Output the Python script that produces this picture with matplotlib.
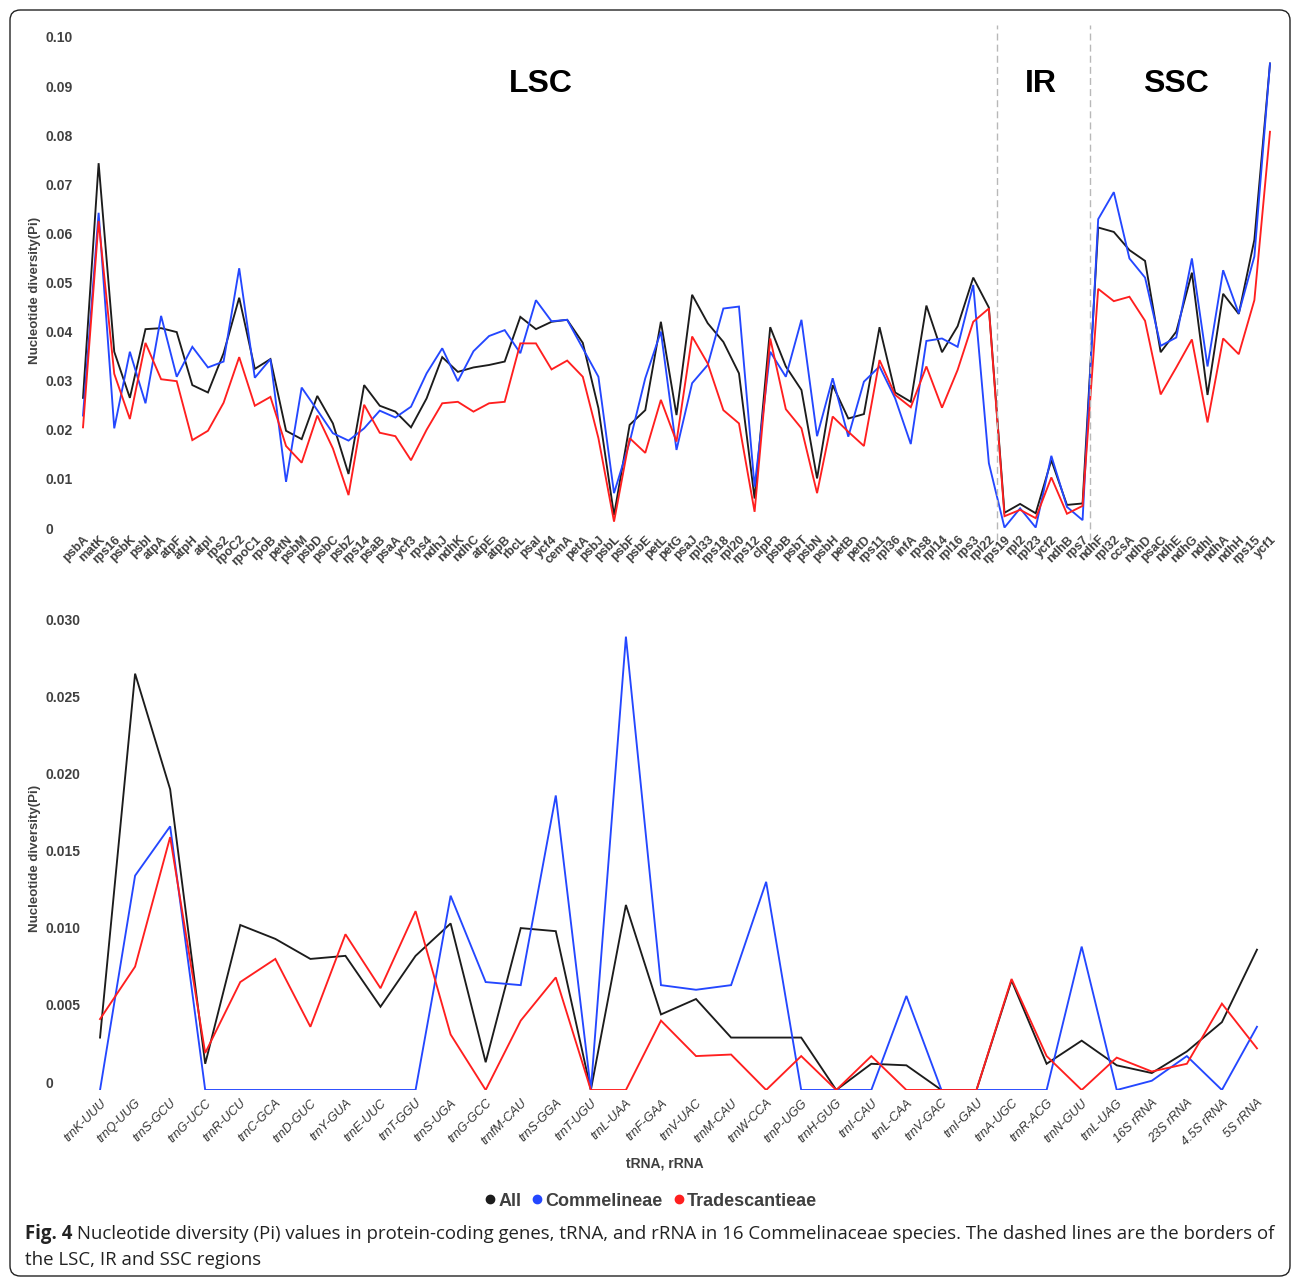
import matplotlib
matplotlib.use('Agg')
import matplotlib.pyplot as plt
from matplotlib.patches import FancyBboxPatch
from matplotlib.lines import Line2D
import matplotlib.transforms as mtrans

plt.rcParams['font.family'] = ['Liberation Sans', 'DejaVu Sans']

# ---------------- data ----------------
genes = ['psbA', 'matK', 'rps16', 'psbK', 'psbI', 'atpA', 'atpF', 'atpH', 'atpI', 'rps2',
         'rpoC2', 'rpoC1', 'rpoB', 'petN', 'psbM', 'psbD', 'psbC', 'psbZ', 'rps14', 'psaB',
         'psaA', 'ycf3', 'rps4', 'ndhJ', 'ndhK', 'ndhC', 'atpE', 'atpB', 'rbcL', 'psaI',
         'ycf4', 'cemA', 'petA', 'psbJ', 'psbL', 'psbF', 'psbE', 'petL', 'petG', 'psaJ',
         'rpl33', 'rps18', 'rpl20', 'rps12', 'clpP', 'psbB', 'psbT', 'psbN', 'psbH', 'petB',
         'petD', 'rps11', 'rpl36', 'infA', 'rps8', 'rpl14', 'rpl16', 'rps3', 'rpl22', 'rps19',
         'rpl2', 'rpl23', 'ycf2', 'ndhB', 'rps7', 'ndhF', 'rpl32', 'ccsA', 'ndhD', 'psaC',
         'ndhE', 'ndhG', 'ndhI', 'ndhA', 'ndhH', 'rps15', 'ycf1']

gene_all = [0.0265, 0.0743, 0.0359, 0.0265, 0.0405, 0.0407, 0.0399, 0.0291, 0.0276, 0.0356,
            0.0469, 0.0324, 0.0344, 0.0198, 0.0181, 0.0269, 0.0213, 0.0110, 0.0291, 0.0249,
            0.0237, 0.0205, 0.0264, 0.0348, 0.0318, 0.0327, 0.0332, 0.0339, 0.0430, 0.0405,
            0.0420, 0.0424, 0.0377, 0.0244, 0.0026, 0.0210, 0.0240, 0.0420, 0.0230, 0.0475,
            0.0417, 0.0379, 0.0315, 0.0060, 0.0409, 0.0329, 0.0281, 0.0101, 0.0291, 0.0223,
            0.0232, 0.0409, 0.0276, 0.0257, 0.0453, 0.0358, 0.0411, 0.0510, 0.0449, 0.0031,
            0.0049, 0.0030, 0.0138, 0.0047, 0.0050, 0.0612, 0.0603, 0.0566, 0.0544, 0.0358,
            0.0400, 0.0520, 0.0271, 0.0477, 0.0436, 0.0587, 0.0946]

gene_commelineae = [0.0229, 0.0642, 0.0203, 0.0359, 0.0254, 0.0432, 0.0308, 0.0369, 0.0327, 0.0339,
                    0.0529, 0.0306, 0.0344, 0.0094, 0.0286, 0.0240, 0.0193, 0.0178, 0.0203, 0.0239,
                    0.0225, 0.0247, 0.0315, 0.0366, 0.0299, 0.0360, 0.0391, 0.0403, 0.0356, 0.0464,
                    0.0421, 0.0424, 0.0366, 0.0308, 0.0071, 0.0175, 0.0305, 0.0400, 0.0159, 0.0295,
                    0.0332, 0.0447, 0.0451, 0.0084, 0.0359, 0.0308, 0.0424, 0.0187, 0.0305, 0.0186,
                    0.0298, 0.0329, 0.0264, 0.0171, 0.0381, 0.0386, 0.0369, 0.0495, 0.0132, 0.0001,
                    0.0040, 0.0001, 0.0147, 0.0043, 0.0016, 0.0629, 0.0684, 0.0549, 0.0510, 0.0371,
                    0.0388, 0.0549, 0.0329, 0.0525, 0.0437, 0.0553, 0.0946]

gene_tradescantieae = [0.0205, 0.0625, 0.0314, 0.0222, 0.0377, 0.0303, 0.0299, 0.0179, 0.0198, 0.0255,
                       0.0348, 0.0249, 0.0267, 0.0167, 0.0133, 0.0229, 0.0162, 0.0067, 0.0251, 0.0194,
                       0.0187, 0.0138, 0.0200, 0.0254, 0.0257, 0.0237, 0.0254, 0.0257, 0.0376, 0.0376,
                       0.0323, 0.0341, 0.0308, 0.0183, 0.0013, 0.0183, 0.0153, 0.0261, 0.0176, 0.0390,
                       0.0335, 0.0240, 0.0213, 0.0033, 0.0386, 0.0242, 0.0203, 0.0071, 0.0227, 0.0196,
                       0.0167, 0.0342, 0.0271, 0.0246, 0.0329, 0.0245, 0.0322, 0.0420, 0.0447, 0.0024,
                       0.0037, 0.0020, 0.0103, 0.0029, 0.0045, 0.0487, 0.0462, 0.0471, 0.0422, 0.0272,
                       0.0327, 0.0384, 0.0215, 0.0386, 0.0354, 0.0464, 0.0807]

rnas = ['trnK-UUU', 'trnQ-UUG', 'trnS-GCU', 'trnG-UCC', 'trnR-UCU', 'trnC-GCA', 'trnD-GUC',
        'trnY-GUA', 'trnE-UUC', 'trnT-GGU', 'trnS-UGA', 'trnG-GCC', 'trnfM-CAU', 'trnS-GGA',
        'trnT-UGU', 'trnL-UAA', 'trnF-GAA', 'trnV-UAC', 'trnM-CAU', 'trnW-CCA', 'trnP-UGG',
        'trnH-GUG', 'trnI-CAU', 'trnL-CAA', 'trnV-GAC', 'trnI-GAU', 'trnA-UGC', 'trnR-ACG',
        'trnN-GUU', 'trnL-UAG', '16S rRNA', '23S rRNA', '4.5S rRNA', '5S rRNA']

rna_all = [0.0034, 0.0270, 0.0195, 0.0017, 0.0107, 0.0098, 0.0085, 0.0087, 0.0054, 0.0087,
           0.0108, 0.0018, 0.0105, 0.0103, 0.0000, 0.0120, 0.0049, 0.0059, 0.0034, 0.0034,
           0.0034, 0.0000, 0.0017, 0.0016, 0.0000, 0.0000, 0.0071, 0.0017, 0.0032, 0.0016,
           0.0011, 0.0025, 0.0044, 0.0091]

rna_commelineae = [0.0000, 0.0139, 0.0171, 0.0000, 0.0000, 0.0000, 0.0000, 0.0000, 0.0000, 0.0000,
                   0.0126, 0.0070, 0.0068, 0.0191, 0.0000, 0.0294, 0.0068, 0.0065, 0.0068, 0.0135,
                   0.0000, 0.0000, 0.0000, 0.0061, 0.0000, 0.0000, 0.0000, 0.0000, 0.0093, 0.0000,
                   0.0006, 0.0022, 0.0000, 0.0041]

rna_tradescantieae = [0.0046, 0.0080, 0.0164, 0.0024, 0.0070, 0.0085, 0.0041, 0.0101, 0.0066, 0.0116,
                      0.0036, 0.0000, 0.0045, 0.0073, 0.0000, 0.0000, 0.0045, 0.0022, 0.0023, 0.0000,
                      0.0022, 0.0000, 0.0022, 0.0000, 0.0000, 0.0000, 0.0072, 0.0022, 0.0000, 0.0021,
                      0.0012, 0.0017, 0.0056, 0.0027]

series_names = ['All', 'Commelineae', 'Tradescantieae']
series_colors = ['#1c1c1c', '#2447ff', '#ff1f1f']

region_labels = ['LSC', 'IR', 'SSC']
region_centers = [29.3, 61.3, 70.0]
region_borders = [58.5, 64.5]

top_yticks = [0, 0.01, 0.02, 0.03, 0.04, 0.05, 0.06, 0.07, 0.08, 0.09, 0.10]
top_yticklabels = ['0', '0.01', '0.02', '0.03', '0.04', '0.05', '0.06', '0.07', '0.08', '0.09', '0.10']
bot_yticks = [0, 0.005, 0.010, 0.015, 0.020, 0.025, 0.030]
bot_yticklabels = ['0', '0.005', '0.010', '0.015', '0.020', '0.025', '0.030']

caption_bold = 'Fig. 4'
caption_line1 = ('Nucleotide diversity (Pi) values in protein-coding genes, tRNA, and rRNA in 16 '
                 'Commelinaceae species. The dashed lines are the borders of')
caption_line2 = 'the LSC, IR and SSC regions'

# ---------------- layout helpers ----------------
W, H = 1292, 1278
fig = plt.figure(figsize=(W / 100, H / 100), dpi=100)


def fx(px):
    return px / W


def fy(py):
    return 1 - py / H


GRAY = '#404040'

# border
border = FancyBboxPatch((fx(10), fy(1276)), fx(1290) - fx(10), fy(10) - fy(1276),
                        boxstyle='round,pad=0,rounding_size=0.008', transform=fig.transFigure,
                        fill=False, edgecolor='#222222', linewidth=1.0)
fig.patches.append(border)

# ---------------- top chart ----------------
ax1 = fig.add_axes([fx(75.2), fy(528), fx(1277.8) - fx(75.2), (528 - 37) / H])
x1 = list(range(len(genes)))
for vals, c in zip([gene_all, gene_commelineae, gene_tradescantieae], series_colors):
    ax1.plot(x1, vals, color=c, lw=1.35, solid_joinstyle='miter')
ax1.set_xlim(-0.5, len(genes) - 0.5)
ax1.set_ylim(0, 0.10)
ax1.set_xticks(x1)
ax1.set_xticklabels(genes, rotation=45, ha='right', va='top', rotation_mode='anchor',
                    fontsize=9, fontweight='bold', color=GRAY)
ax1.set_yticks(top_yticks)
ax1.set_yticklabels(top_yticklabels, fontsize=10, fontweight='bold', color=GRAY, ha='left')
ax1.tick_params(axis='x', length=0, pad=4)
ax1.tick_params(axis='y', length=0, pad=30 * 0.72)
for s in ax1.spines.values():
    s.set_visible(False)

for b in region_borders:
    ax1.axvline(b, ymin=(528 - 540) / 491, ymax=(528 - 25) / 491, clip_on=False,
                color='#b8b8b8', lw=1.0, ls=(0, (5, 3)))

blend = mtrans.blended_transform_factory(ax1.transData, ax1.transAxes)
for lab, xc in zip(region_labels, region_centers):
    ax1.text(xc, 0.904, lab, transform=blend, ha='center', va='center',
             fontsize=23, fontweight='bold', color='black')

fig.text(fx(35), fy(290), 'Nucleotide diversity(Pi)', rotation=90, ha='center', va='center',
         fontsize=9.5, fontweight='bold', color=GRAY)

# ---------------- bottom chart ----------------
ax2 = fig.add_axes([fx(82.5), fy(1090), fx(1274.5) - fx(82.5), (1090 - 627.4) / H])
x2 = list(range(len(rnas)))
for vals, c in zip([rna_all, rna_commelineae, rna_tradescantieae], series_colors):
    ax2.plot(x2, vals, color=c, lw=1.35, solid_joinstyle='miter')
ax2.set_xlim(-0.5, len(rnas) - 0.5)
ax2.set_ylim(0, 0.030)
ax2.set_xticks(x2)
ax2.set_xticklabels(rnas, rotation=45, ha='right', va='top', rotation_mode='anchor',
                    fontsize=9, fontstyle='italic', color='#333333')
ax2.set_yticks(bot_yticks)
ax2.set_yticklabels(bot_yticklabels, fontsize=10, fontweight='bold', color=GRAY, ha='left')
ax2.tick_params(axis='x', length=0, pad=5)
ax2.tick_params(axis='y', length=0, pad=37.5 * 0.72)
shift = mtrans.ScaledTranslation(0, 8 / 100, fig.dpi_scale_trans)
for lbl in ax2.get_yticklabels():
    lbl.set_transform(lbl.get_transform() + shift)
for s in ax2.spines.values():
    s.set_visible(False)

fig.text(fx(35), fy(858), 'Nucleotide diversity(Pi)', rotation=90, ha='center', va='center',
         fontsize=9.5, fontweight='bold', color=GRAY)
fig.text(fx(665), fy(1163), 'tRNA, rRNA', ha='center', va='center',
         fontsize=10, fontweight='bold', color=GRAY)

# ---------------- legend ----------------
handles = [Line2D([], [], marker='o', ls='', color=c, markersize=6) for c in series_colors]
fig.legend(handles, series_names, loc='center', bbox_to_anchor=(fx(650), fy(1201)), ncol=3,
           frameon=False, handletextpad=0.05, columnspacing=0.5, handlelength=0.8,
           prop=dict(weight='bold', size=13), labelcolor=GRAY)

# ---------------- caption ----------------
renderer = fig.canvas.get_renderer()
cap_font = ['Open Sans', 'DejaVu Sans']
size = 13
tb = fig.text(fx(25), fy(1234), caption_bold, ha='left', va='center', fontsize=size,
              fontweight='bold', family=cap_font, color='#222222')
tr = fig.text(fx(25), fy(1234), ' ' + caption_line1, ha='left', va='center', fontsize=size,
              family=cap_font, color='#222222')
# fit first caption line to the target width
for _ in range(3):
    wb = tb.get_window_extent(renderer).width
    wr = tr.get_window_extent(renderer).width
    total = wb + wr
    size = size * (1253 / total)
    tb.set_fontsize(size)
    tr.set_fontsize(size)
wb = tb.get_window_extent(renderer).width
tr.set_x(fx(25 + wb))
fig.text(fx(25), fy(1260), caption_line2, ha='left', va='center', fontsize=size,
         family=cap_font, color='#222222')

fig.savefig('out.png', dpi=100)
